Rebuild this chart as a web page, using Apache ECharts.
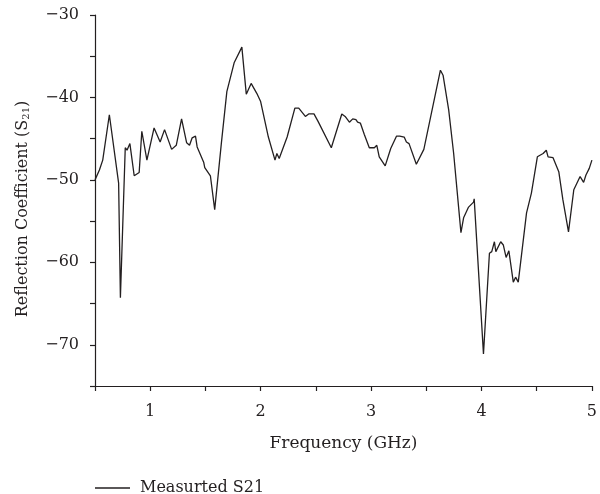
<!DOCTYPE html>
<html>
<head>
<meta charset="utf-8">
<script src="https://cdn.jsdelivr.net/npm/echarts@6/dist/echarts.min.js"></script>
<style>
  html, body { margin: 0; padding: 0; background: #fff; }
  #chart { width: 600px; height: 494px; }
</style>
</head>
<body>
<div id="chart"></div>
<script>
// Measured S21 sweep: frequency (GHz) and coefficient (dB)
const freqGHz = [
  0.50, 0.54, 0.57, 0.63, 0.714, 0.73, 0.774, 0.79, 0.816, 0.855, 0.90, 0.924, 0.97,
  1.035, 1.09, 1.13, 1.194, 1.236, 1.284, 1.33, 1.356, 1.38, 1.41, 1.425, 1.485, 1.494,
  1.545, 1.584, 1.644, 1.694, 1.76, 1.83, 1.87, 1.914, 1.965, 2.00, 2.07, 2.13, 2.147,
  2.168, 2.24, 2.31, 2.345, 2.405, 2.435, 2.483, 2.52, 2.64, 2.735, 2.765, 2.804, 2.834,
  2.863, 2.878, 2.903, 2.939, 2.984, 3.03, 3.052, 3.074, 3.128, 3.178, 3.23, 3.26, 3.30,
  3.32, 3.344, 3.41, 3.478, 3.628, 3.652, 3.703, 3.748, 3.814, 3.838, 3.883, 3.928, 3.934,
  4.018, 4.072, 4.093, 4.117, 4.13, 4.174, 4.198, 4.223, 4.248, 4.288, 4.309, 4.333,
  4.408, 4.452, 4.506, 4.558, 4.587, 4.603, 4.648, 4.70, 4.737, 4.788, 4.836, 4.893,
  4.91, 4.925, 4.946, 4.976, 5.00
];
const s21dB = [
  -50.0, -48.8, -47.6, -42.1, -50.4, -64.3, -46.1, -46.4, -45.6, -49.5, -49.1, -44.1, -47.6,
  -43.7, -45.4, -43.9, -46.3, -45.8, -42.6, -45.5, -45.8, -44.9, -44.7, -46.0, -47.9, -48.5,
  -49.5, -53.6, -45.6, -39.3, -35.8, -33.9, -39.6, -38.3, -39.5, -40.5, -44.8, -47.6, -46.8,
  -47.4, -44.8, -41.3, -41.3, -42.3, -42.0, -42.0, -42.9, -46.1, -42.0, -42.3, -43.0, -42.6,
  -42.7, -43.0, -43.1, -44.5, -46.1, -46.1, -45.8, -47.2, -48.3, -46.2, -44.7, -44.7, -44.8,
  -45.4, -45.6, -48.1, -46.3, -36.7, -37.3, -41.5, -46.8, -56.4, -54.6, -53.3, -52.7, -52.3,
  -71.1, -58.9, -58.7, -57.5, -58.7, -57.5, -57.9, -59.4, -58.6, -62.4, -61.8, -62.4,
  -54.0, -51.6, -47.2, -46.8, -46.4, -47.2, -47.3, -49.0, -52.4, -56.3, -51.2, -49.6,
  -49.7, -50.3, -49.4, -48.6, -47.6
];
const seriesName = 'Measurted S21';
const xTitle = 'Frequency (GHz)';

const ink = '#231f20';
const fontFamily = '"DejaVu Serif", "Liberation Serif", serif';

const chart = echarts.init(document.getElementById('chart'), null, { renderer: 'canvas' });

chart.setOption({
  animation: false,
  backgroundColor: '#ffffff',
  textStyle: { fontFamily: fontFamily, color: ink },
  grid: { left: 95, right: 4.5, top: 15, bottom: 108, containLabel: false },
  legend: {
    left: 90,
    top: 475,
    icon: 'rect',
    itemWidth: 35,
    itemHeight: 1.3,
    data: [seriesName],
    textStyle: { fontFamily: fontFamily, fontSize: 16, color: ink, padding: [0, 0, 0, 5] }
  },
  xAxis: {
    type: 'value',
    min: 0.5,
    max: 5,
    interval: 0.5,
    name: xTitle,
    nameLocation: 'middle',
    nameGap: 49,
    nameTextStyle: { fontFamily: fontFamily, fontSize: 17, color: ink },
    axisLine: { lineStyle: { color: ink, width: 1.2 } },
    axisTick: { inside: false, length: 5, lineStyle: { color: ink, width: 1.2 } },
    axisLabel: {
      margin: 18,
      fontFamily: fontFamily,
      fontSize: 16,
      color: ink,
      showMinLabel: true,
      showMaxLabel: true,
      formatter: v => (Math.abs(v - Math.round(v)) < 1e-9 ? String(Math.round(v)) : '')
    },
    splitLine: { show: false }
  },
  yAxis: {
    type: 'value',
    min: -75,
    max: -30,
    interval: 5,
    name: '{a|Reflection Coefficient (S}{s|21}{a|)}',
    nameLocation: 'middle',
    nameGap: 64,
    nameRotate: 90,
    nameTextStyle: {
      padding: [0, 17, 0, 0],
      rich: {
        a: { fontFamily: fontFamily, fontSize: 16, color: ink },
        s: { fontFamily: fontFamily, fontSize: 10, color: ink, verticalAlign: 'bottom', padding: [6, 0, 0, 0] }
      }
    },
    axisLine: { show: true, lineStyle: { color: ink, width: 1.2 } },
    axisTick: { show: true, inside: false, length: 5, lineStyle: { color: ink, width: 1.2 } },
    axisLabel: {
      margin: 16,
      fontFamily: fontFamily,
      fontSize: 16,
      color: ink,
      formatter: v => (v % 10 === 0 ? String(v).replace('-', '\u2212') : '')
    },
    splitLine: { show: false }
  },
  series: [{
    name: seriesName,
    type: 'line',
    data: freqGHz.map((f, i) => [f, s21dB[i]]),
    showSymbol: false,
    symbol: 'none',
    lineStyle: { color: ink, width: 1.3 },
    itemStyle: { color: ink }
  }]
});
</script>
</body>
</html>
